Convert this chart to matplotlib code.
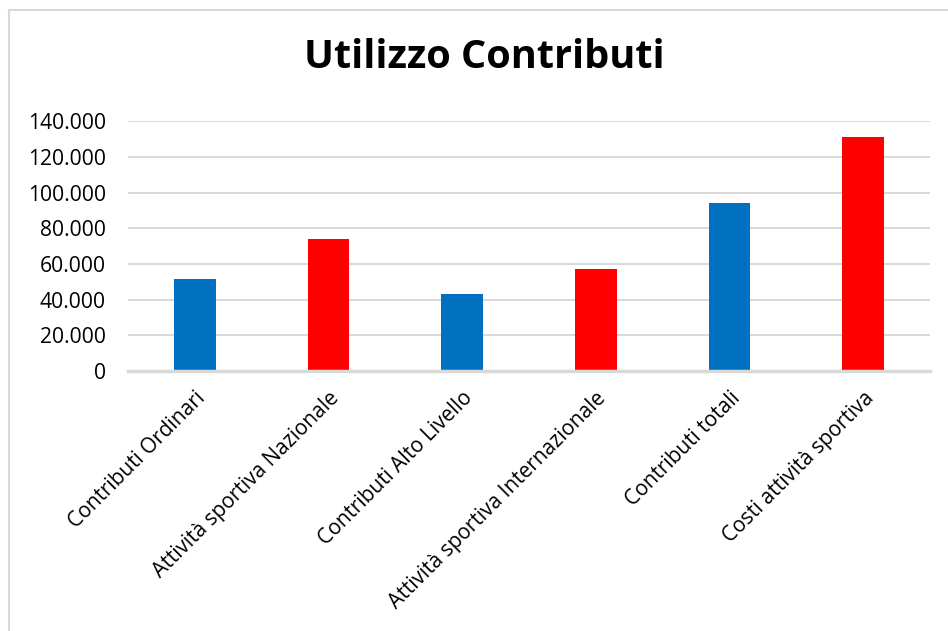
import matplotlib
matplotlib.use("Agg")
import matplotlib.pyplot as plt
from matplotlib.lines import Line2D

categories = ["Contributi Ordinari", "Attività sportiva Nazionale", "Contributi Alto Livello",
              "Attività sportiva Internazionale", "Contributi totali", "Costi attività sportiva"]
values = [51500, 74000, 43000, 57000, 94000, 131000]
colors = ["#0070C0", "#FF0000", "#0070C0", "#FF0000", "#0070C0", "#FF0000"]
yticks = [0, 20000, 40000, 60000, 80000, 100000, 120000, 140000]
ytick_labels = ["0", "20.000", "40.000", "60.000", "80.000", "100.000", "120.000", "140.000"]

W, H = 948, 631
fig = plt.figure(figsize=(W / 100, H / 100), dpi=100)
ax = fig.add_axes([128 / W, 1 - 371 / H, (930 - 128) / W, (371 - 121.3) / H])

x = list(range(len(categories)))
ax.bar(x, values, width=0.31, color=colors, zorder=3)
ax.set_xlim(-0.5, len(categories) - 0.5)
ax.set_ylim(0, 140000)
ax.set_yticks(yticks)
ax.set_yticklabels(ytick_labels, fontfamily="Open Sans", fontsize=15.2)
ax.set_xticks(x)
ax.set_xticklabels(categories, rotation=45, ha="right", va="top", rotation_mode="anchor",
                   fontfamily="Open Sans", fontsize=15)
ax.tick_params(axis="both", length=0)
ax.tick_params(axis="y", pad=16)
ax.tick_params(axis="x", pad=12)
ax.grid(axis="y", color="#d9d9d9", linewidth=1.4, zorder=0)
for s in ["top", "right", "left"]:
    ax.spines[s].set_visible(False)
ax.spines["bottom"].set_color("#d9d9d9")
ax.spines["bottom"].set_linewidth(2.5)
ax.spines["bottom"].set_zorder(4)

fig.text(484 / W, 1 - 58 / H, "Utilizzo Contributi", ha="center", va="center",
         fontfamily="Open Sans", fontweight="bold", fontsize=28.5)

# outer frame (left and top edges visible)
fig.add_artist(Line2D([9 / W, 9 / W], [0, 1 - 9.5 / H], color="#d9d9d9", linewidth=1.5))
fig.add_artist(Line2D([9 / W, 1], [1 - 9.5 / H, 1 - 9.5 / H], color="#d9d9d9", linewidth=1.5))

fig.savefig("out.png", dpi=100)
